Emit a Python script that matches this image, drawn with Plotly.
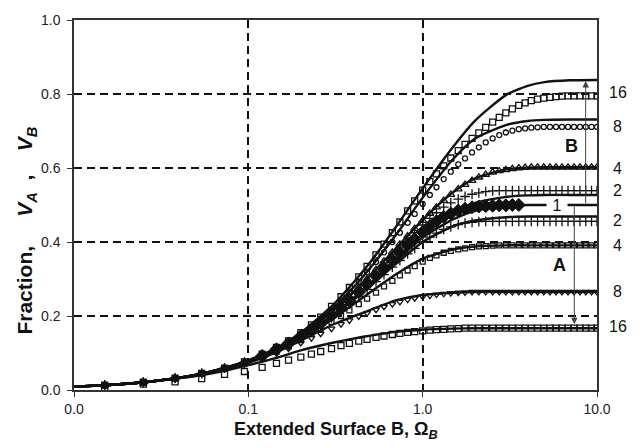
import math
import plotly.graph_objects as go

# ---- solid model curves (x grid, y per curve) ----
xs = [0.01, 0.015, 0.02, 0.03, 0.05, 0.07, 0.1, 0.15, 0.2, 0.3, 0.4, 0.5, 0.7,
      1.0, 1.5, 2.0, 3.0, 4.0, 5.0, 7.0, 10.0]

line_B16 = [0.009, 0.013, 0.017, 0.025, 0.041, 0.057, 0.08, 0.117, 0.155, 0.226, 0.29,
            0.345, 0.44, 0.545, 0.658, 0.728, 0.797, 0.822, 0.832, 0.837, 0.838]
line_B8 = [0.009, 0.013, 0.017, 0.025, 0.041, 0.057, 0.08, 0.117, 0.152, 0.218, 0.277,
           0.33, 0.418, 0.52, 0.625, 0.68, 0.716, 0.727, 0.73, 0.731, 0.731]
line_B4 = [0.009, 0.013, 0.017, 0.025, 0.041, 0.057, 0.079, 0.115, 0.149, 0.21, 0.264,
           0.31, 0.382, 0.46, 0.535, 0.572, 0.596, 0.601, 0.602, 0.602, 0.602]
line_B2 = [0.009, 0.013, 0.017, 0.025, 0.041, 0.057, 0.079, 0.113, 0.145, 0.2, 0.248,
           0.288, 0.353, 0.422, 0.48, 0.506, 0.522, 0.526, 0.527, 0.527, 0.527]
line_1 = [0.009, 0.013, 0.017, 0.025, 0.041, 0.056, 0.078, 0.112, 0.144, 0.199, 0.246,
          0.286, 0.349, 0.412, 0.462, 0.484, 0.497, 0.5, 0.5, 0.5, 0.5]
line_A2 = [0.009, 0.013, 0.017, 0.025, 0.041, 0.056, 0.078, 0.112, 0.143, 0.197, 0.243,
           0.281, 0.34, 0.4, 0.443, 0.458, 0.467, 0.469, 0.469, 0.469, 0.469]
line_A4 = [0.009, 0.013, 0.017, 0.025, 0.04, 0.055, 0.077, 0.109, 0.139, 0.19, 0.231,
           0.264, 0.312, 0.355, 0.38, 0.388, 0.391, 0.391, 0.391, 0.391, 0.391]
line_A8 = [0.009, 0.013, 0.017, 0.025, 0.039, 0.053, 0.073, 0.105, 0.133, 0.175, 0.199,
           0.216, 0.242, 0.257, 0.263, 0.265, 0.265, 0.265, 0.265, 0.265, 0.265]
line_A16 = [0.0085, 0.0125, 0.0165, 0.025, 0.038, 0.05, 0.067, 0.089, 0.107, 0.127, 0.139,
            0.147, 0.157, 0.163, 0.166, 0.167, 0.167, 0.167, 0.167, 0.167, 0.167]

# ---- simulated (marker) series ----
xm = [0.015, 0.025, 0.038, 0.054, 0.073, 0.095, 0.12, 0.145, 0.17, 0.2, 0.23, 0.26,
      0.3, 0.34, 0.38, 0.43, 0.48, 0.54, 0.6, 0.67, 0.74, 0.82, 0.9, 1.0, 1.1, 1.2,
      1.32, 1.45, 1.6, 1.75, 1.92, 2.1, 2.3, 2.52, 2.75, 3.0, 3.27, 3.56, 3.87, 4.2,
      4.56, 4.95, 5.37, 5.82, 6.3, 6.82, 7.38, 7.98, 8.62, 9.3, 10.0]

mk_B16 = [0.013, 0.021, 0.032, 0.045, 0.059, 0.076, 0.097, 0.115, 0.133, 0.155, 0.176,
          0.197, 0.226, 0.252, 0.277, 0.306, 0.334, 0.365, 0.394, 0.425, 0.454, 0.484,
          0.511, 0.54, 0.563, 0.584, 0.606, 0.627, 0.647, 0.664, 0.68, 0.695, 0.71,
          0.724, 0.737, 0.749, 0.76, 0.769, 0.776, 0.782, 0.786, 0.789, 0.791, 0.793,
          0.794, 0.795, 0.795, 0.795, 0.795, 0.795, 0.795]
mk_B8 = [0.013, 0.021, 0.032, 0.045, 0.059, 0.076, 0.096, 0.114, 0.131, 0.152, 0.172,
         0.192, 0.218, 0.243, 0.266, 0.293, 0.318, 0.346, 0.372, 0.4, 0.425, 0.452,
         0.476, 0.503, 0.527, 0.548, 0.57, 0.59, 0.61, 0.626, 0.642, 0.656, 0.669,
         0.68, 0.689, 0.696, 0.701, 0.705, 0.707, 0.709, 0.71, 0.711, 0.711, 0.711,
         0.711, 0.711, 0.711, 0.711, 0.711, 0.711, 0.711]
mk_B4 = [0.013, 0.021, 0.032, 0.045, 0.059, 0.075, 0.095, 0.112, 0.129, 0.149, 0.168,
         0.186, 0.21, 0.232, 0.253, 0.277, 0.3, 0.325, 0.348, 0.372, 0.394, 0.416,
         0.436, 0.458, 0.477, 0.494, 0.512, 0.528, 0.543, 0.555, 0.566, 0.575, 0.582,
         0.588, 0.592, 0.595, 0.598, 0.6, 0.601, 0.602, 0.602, 0.602, 0.602, 0.602,
         0.602, 0.602, 0.602, 0.602, 0.602, 0.602, 0.602]
mk_B2 = [0.013, 0.021, 0.032, 0.045, 0.059, 0.075, 0.094, 0.111, 0.127, 0.146, 0.165,
         0.183, 0.205, 0.226, 0.246, 0.27, 0.292, 0.316, 0.338, 0.362, 0.384, 0.406,
         0.425, 0.446, 0.464, 0.479, 0.494, 0.506, 0.516, 0.523, 0.529, 0.533, 0.536,
         0.538, 0.539, 0.539, 0.539, 0.539, 0.539, 0.539, 0.539, 0.539, 0.539, 0.539,
         0.539, 0.539, 0.539, 0.539, 0.539, 0.539, 0.539]
# ratio-1 series: sampled from xm[6] (0.12) to xm[37] (3.56)
mk_1 = [0.092, 0.11, 0.126, 0.145, 0.163,
        0.18, 0.202, 0.222, 0.241, 0.264, 0.285, 0.308, 0.329, 0.351, 0.371, 0.391,
        0.408, 0.427, 0.443, 0.456, 0.468, 0.477, 0.485, 0.49, 0.494, 0.496, 0.497,
        0.498, 0.499, 0.499, 0.5, 0.5]
mk_A2 = [0.013, 0.021, 0.032, 0.045, 0.059, 0.074, 0.092, 0.108, 0.124, 0.142, 0.159,
         0.175, 0.195, 0.214, 0.232, 0.253, 0.272, 0.293, 0.312, 0.332, 0.35, 0.368,
         0.383, 0.4, 0.413, 0.424, 0.434, 0.441, 0.447, 0.451, 0.453, 0.455, 0.456,
         0.456, 0.456, 0.456, 0.456, 0.456, 0.456, 0.456, 0.456, 0.456, 0.456, 0.456,
         0.456, 0.456, 0.456, 0.456, 0.456, 0.456, 0.456]
mk_A4 = [0.013, 0.021, 0.032, 0.044, 0.058, 0.072, 0.089, 0.104, 0.118, 0.135, 0.151,
         0.166, 0.184, 0.2, 0.215, 0.232, 0.247, 0.263, 0.28, 0.295, 0.31, 0.323,
         0.335, 0.347, 0.357, 0.364, 0.371, 0.376, 0.38, 0.383, 0.386, 0.388, 0.389,
         0.39, 0.391, 0.391, 0.391, 0.391, 0.391, 0.391, 0.391, 0.391, 0.391, 0.391,
         0.391, 0.391, 0.391, 0.391, 0.391, 0.391, 0.391]
mk_A8 = [0.013, 0.021, 0.031, 0.043, 0.056, 0.07, 0.085, 0.099, 0.112, 0.127, 0.14,
         0.152, 0.166, 0.178, 0.188, 0.199, 0.208, 0.217, 0.225, 0.232, 0.238, 0.244,
         0.248, 0.252, 0.255, 0.258, 0.26, 0.262, 0.263, 0.264, 0.265, 0.265, 0.265,
         0.265, 0.265, 0.265, 0.265, 0.265, 0.265, 0.265, 0.265, 0.265, 0.265, 0.265,
         0.265, 0.265, 0.265, 0.265, 0.265, 0.265, 0.265]
mk_A16 = [0.005, 0.016, 0.022, 0.031, 0.042, 0.05, 0.061, 0.072, 0.081, 0.089, 0.097,
          0.104, 0.112, 0.12, 0.126, 0.132, 0.137, 0.142, 0.146, 0.15, 0.153, 0.156,
          0.158, 0.16, 0.162, 0.163, 0.164, 0.165, 0.166, 0.167, 0.167, 0.167, 0.167,
          0.167, 0.167, 0.167, 0.167, 0.167, 0.167, 0.167, 0.167, 0.167, 0.167, 0.167,
          0.167, 0.167, 0.167, 0.167, 0.167, 0.167, 0.167]

# right-hand curve labels
right_labels = ["16", "8", "4", "2", "2", "4", "8", "16"]
right_label_y = [0.805, 0.713, 0.598, 0.540, 0.459, 0.391, 0.265, 0.171]

x_tickvals = [0.01, 0.1, 1, 10]
x_ticktext = ["0.0", "0.1", "1.0", "10.0"]
y_tickvals = [0, 0.2, 0.4, 0.6, 0.8, 1.0]
y_ticktext = ["0.0", "0.2", "0.4", "0.6", "0.8", "1.0"]

FONT = "Liberation Sans, Arial, Helvetica, sans-serif"
INK = "#111111"
NB = "\u00a0"

fig = go.Figure()

marker_series = [
    (mk_B16, "square-open", 6),
    (mk_B8, "circle-open", 5),
    (mk_B4, "triangle-up-open", 7),
    (mk_B2, "cross-thin-open", 7),
    (mk_A2, "cross-thin-open", 7),
    (mk_A4, "square-open", 5),
    (mk_A8, "triangle-down-open", 6),
    (mk_A16, "square-open", 6),
]
for yv, sym, size in marker_series:
    fig.add_trace(go.Scatter(
        x=xm[:len(yv)], y=yv, mode="markers",
        marker=dict(symbol=sym, size=size, color=INK, line=dict(width=1.3, color=INK)),
        showlegend=False, hoverinfo="skip"))

fig.add_trace(go.Scatter(
    x=xm[6:6 + len(mk_1)], y=mk_1, mode="markers",
    marker=dict(symbol="diamond", size=10, color=INK, line=dict(width=1, color=INK)),
    showlegend=False, hoverinfo="skip"))

for yv in [line_B16, line_B8, line_B4, line_B2, line_1, line_A2, line_A4, line_A8, line_A16]:
    fig.add_trace(go.Scatter(
        x=xs, y=yv, mode="lines",
        line=dict(color=INK, width=2.4, shape="spline", smoothing=0.6),
        showlegend=False, hoverinfo="skip"))

annotations = []
for txt, yv in zip(right_labels, right_label_y):
    annotations.append(dict(xref="paper", yref="y", x=1.04, y=yv, text=txt,
                            showarrow=False, xanchor="center", yanchor="middle",
                            font=dict(family=FONT, size=16, color=INK)))

annotations.append(dict(xref="x", yref="y", x=math.log10(5.9), y=0.5, text="1",
                        showarrow=False, bgcolor="white", width=20, height=16,
                        borderpad=0, font=dict(family=FONT, size=16, color=INK)))
annotations.append(dict(xref="x", yref="y", x=math.log10(7.1), y=0.66, text="<b>B</b>",
                        showarrow=False, font=dict(family=FONT, size=18, color=INK)))
annotations.append(dict(xref="x", yref="y", x=math.log10(6.13), y=0.338, text="<b>A</b>",
                        showarrow=False, font=dict(family=FONT, size=18, color=INK)))
# arrows B (up) and A (down)
annotations.append(dict(xref="x", yref="y", axref="x", ayref="y",
                        x=math.log10(8.61), y=0.835, ax=math.log10(8.61), ay=0.5,
                        text="", showarrow=True, arrowhead=2, arrowsize=1.3,
                        arrowwidth=1, arrowcolor="#444444"))
annotations.append(dict(xref="x", yref="y", axref="x", ayref="y",
                        x=math.log10(7.41), y=0.178, ax=math.log10(7.41), ay=0.5,
                        text="", showarrow=True, arrowhead=2, arrowsize=1.3,
                        arrowwidth=1, arrowcolor="#444444"))
# axis titles
annotations.append(dict(xref="paper", yref="paper", x=0.5, y=-0.109,
                        xanchor="center", yanchor="middle", showarrow=False,
                        text="<b>Extended Surface B, Ω<sub><i>B</i></sub></b>",
                        font=dict(family=FONT, size=18, color=INK)))
annotations.append(dict(xref="paper", yref="paper", x=-0.091, y=0.432,
                        xanchor="center", yanchor="middle", showarrow=False, textangle=-90,
                        text="<b>Fraction," + NB * 5 + "<i>V</i><sub><i>A</i></sub>" + NB * 2 + ","
                             + NB * 4 + "<i>V</i><sub><i>B</i></sub></b>",
                        font=dict(family=FONT, size=21, color=INK)))

axis_common = dict(
    showgrid=True, gridcolor="#111111", gridwidth=1.6, griddash="8px,5px",
    showline=True, linecolor="#333333", linewidth=1.5, mirror=True,
    ticks="outside", ticklen=5, tickcolor="#333333", tickwidth=1,
    zeroline=False, tickfont=dict(family=FONT, size=14, color="#222222"),
)

fig.update_layout(
    width=644, height=448,
    margin=dict(l=74, r=47, t=15, b=58),
    paper_bgcolor="white", plot_bgcolor="white",
    showlegend=False,
    annotations=annotations,
    xaxis=dict(type="log", range=[-2, 1], tickvals=x_tickvals, ticktext=x_ticktext,
               ticklabelstandoff=0, **axis_common),
    yaxis=dict(range=[0, 1], tickvals=y_tickvals, ticktext=y_ticktext,
               ticklabelstandoff=4, **axis_common),
)

fig.write_html("out.html",
               config={"displayModeBar": False},
               post_script="document.body.style.margin='0';"
                           "document.documentElement.style.margin='0';")
